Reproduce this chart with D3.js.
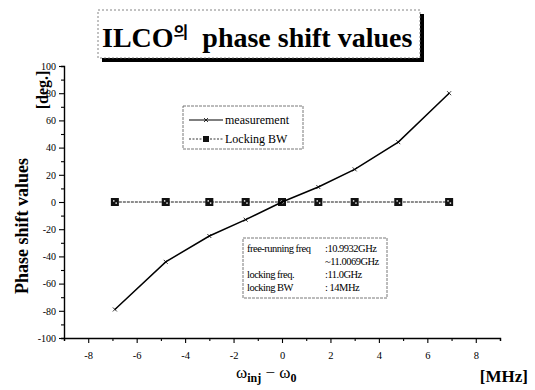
<!DOCTYPE html>
<html>
<head>
<meta charset="utf-8">
<script src="https://cdn.jsdelivr.net/npm/d3@7"></script>
<style>
  body { margin: 0; background: #fff; }
  svg { display: block; font-family: "Liberation Serif", "DejaVu Serif", serif; }
</style>
</head>
<body>
<svg width="535" height="390"></svg>
<script>
// data
const freqOffset = [-6.9, -4.8, -3, -1.5, 0, 1.5, 3, 4.8, 6.9];
const measurement = [-79, -44, -25, -13, 0, 11, 24, 44, 80];
const lockingBW = [0, 0, 0, 0, 0, 0, 0, 0, 0];
const xTicks = [-8, -6, -4, -2, 0, 2, 4, 6, 8];
const yTicks = [-100, -80, -60, -40, -20, 0, 20, 40, 60, 80, 100];
const infoRows = [
  ["free-running freq", ":10.9932GHz"],
  ["", "~11.0069GHz"],
  ["locking freq.", ":11.0GHz"],
  ["locking BW", ": 14MHz"]
];

const serif = "Liberation Serif, DejaVu Serif, serif";
const svg = d3.select("svg");
const margin = { top: 66, right: 35, bottom: 52, left: 64 };
const width = 535 - margin.left - margin.right;
const height = 390 - margin.top - margin.bottom;

const g = svg.append("g")
  .attr("transform", "translate(" + margin.left + "," + margin.top + ")");

const x = d3.scaleLinear().domain([-9, 9]).range([0, width]);
const y = d3.scaleLinear().domain([-100, 100]).range([height, 0]);

// axes with minor ticks
const xAxis = g.append("g").attr("transform", "translate(0," + height + ")");
xAxis.call(d3.axisBottom(x).tickValues(d3.range(-9, 10, 1)).tickFormat("").tickSize(3));
xAxis.selectAll(".tick").filter(d => xTicks.includes(d))
  .select("line").attr("y2", 5);
xAxis.selectAll(".tick").filter(d => xTicks.includes(d))
  .append("text")
  .attr("y", 14).attr("dy", "0.71em").attr("fill", "#000")
  .text(d => d);

const yAxis = g.append("g");
yAxis.call(d3.axisLeft(y).tickValues(d3.range(-100, 101, 10)).tickFormat("").tickSize(3));
yAxis.selectAll(".tick").filter(d => yTicks.includes(d))
  .select("line").attr("x2", -5);
yAxis.selectAll(".tick").filter(d => yTicks.includes(d))
  .append("text")
  .attr("x", -8).attr("dy", "0.32em").attr("fill", "#000")
  .attr("text-anchor", "end")
  .text(d => d);

xAxis.attr("font-family", serif).attr("font-size", 10.5);
yAxis.attr("font-family", serif).attr("font-size", 10);
svg.selectAll(".domain").attr("stroke-width", 1.4);
svg.selectAll(".tick line").attr("stroke-width", 1.1);

// locking BW series
const lineBW = d3.line().x((d, i) => x(freqOffset[i])).y(d => y(d));
g.append("path")
  .datum(lockingBW)
  .attr("fill", "none").attr("stroke", "#000")
  .attr("stroke-width", 0.9).attr("stroke-dasharray", "3,1")
  .attr("d", lineBW);

const bw = g.selectAll(".bw").data(lockingBW).enter().append("g")
  .attr("transform", (d, i) => "translate(" + x(freqOffset[i]) + "," + y(d) + ")");
bw.append("rect").attr("x", -4).attr("y", -4).attr("width", 8).attr("height", 8)
  .attr("fill", "#111");
bw.append("rect").attr("x", -1.8).attr("y", -1.8).attr("width", 1.4).attr("height", 1.4).attr("fill", "#fff");
bw.append("rect").attr("x", 0.6).attr("y", 0.4).attr("width", 1.4).attr("height", 1.4).attr("fill", "#fff");

// measurement series
const lineM = d3.line().x((d, i) => x(freqOffset[i])).y(d => y(d));
g.append("path")
  .datum(measurement)
  .attr("fill", "none").attr("stroke", "#000")
  .attr("stroke-width", 1.5)
  .attr("d", lineM);
g.selectAll(".m").data(measurement).enter().append("path")
  .attr("transform", (d, i) => "translate(" + x(freqOffset[i]) + "," + y(d) + ")")
  .attr("d", "M-2,-2L2,2M-2,2L2,-2")
  .attr("stroke", "#000").attr("stroke-width", 0.8);

// legend
const lg = svg.append("g").attr("transform", "translate(183,106)");
lg.append("rect").attr("width", 120).attr("height", 43)
  .attr("fill", "#fff").attr("stroke", "#555").attr("stroke-width", 0.8)
  .attr("stroke-dasharray", "3,1");
lg.append("line").attr("x1", 6).attr("x2", 40).attr("y1", 14).attr("y2", 14)
  .attr("stroke", "#000").attr("stroke-width", 1.2);
lg.append("path").attr("d", "M21,12L25,16M21,16L25,12").attr("stroke", "#000").attr("stroke-width", 0.8);
lg.append("text").attr("x", 42).attr("y", 18).attr("font-size", 12).text("measurement");
lg.append("line").attr("x1", 6).attr("x2", 40).attr("y1", 33).attr("y2", 33)
  .attr("stroke", "#000").attr("stroke-width", 0.8).attr("stroke-dasharray", "2,1.5");
lg.append("rect").attr("x", 20).attr("y", 30).attr("width", 6).attr("height", 6).attr("fill", "#111");
lg.append("text").attr("x", 42).attr("y", 37).attr("font-size", 12).text("Locking BW");

// info box
const ib = svg.append("g").attr("transform", "translate(243,238)");
ib.append("rect").attr("width", 144).attr("height", 60)
  .attr("fill", "#fff").attr("stroke", "#555").attr("stroke-width", 0.8)
  .attr("stroke-dasharray", "3,1");
infoRows.forEach((r, i) => {
  ib.append("text").attr("x", 4).attr("y", 14 + i * 13).attr("font-size", 10.5)
    .attr("letter-spacing", -0.5).text(r[0]);
  ib.append("text").attr("x", 82).attr("y", 14 + i * 13).attr("font-size", 10.5)
    .attr("letter-spacing", -0.5).text(r[1]);
});

// title box
const tb = svg.append("g").attr("transform", "translate(98,10)");
tb.append("rect").attr("x", 4).attr("y", 4).attr("width", 322).attr("height", 48).attr("fill", "#000");
tb.append("rect").attr("width", 322).attr("height", 48)
  .attr("fill", "#fff").attr("stroke", "#666").attr("stroke-width", 0.8)
  .attr("stroke-dasharray", "2,2");
const tt = tb.append("text").attr("x", 4).attr("y", 37)
  .attr("font-size", 28).attr("font-weight", "bold");
tt.append("tspan").text("ILCO");
tt.append("tspan").attr("font-size", 16).attr("dy", -9)
  .attr("font-family", "Noto Sans CJK KR").text("의");
tt.append("tspan").attr("dy", 9).attr("dx", 14).text("phase shift values");

// axis labels
svg.append("text")
  .attr("transform", "translate(28,226) rotate(-90)")
  .attr("text-anchor", "middle").attr("font-size", 18).attr("font-weight", "bold")
  .text("Phase shift values");
svg.append("text")
  .attr("transform", "translate(48,90) rotate(-90)")
  .attr("text-anchor", "middle").attr("font-size", 16).attr("font-weight", "bold")
  .text("[deg.]");

const xl = svg.append("text").attr("x", 236).attr("y", 378).attr("font-size", 17);
xl.append("tspan").text("ω");
xl.append("tspan").attr("font-size", 12).attr("font-weight", "bold").attr("dy", 4).text("inj");
xl.append("tspan").attr("dy", -4).text(" − ω");
xl.append("tspan").attr("font-size", 12).attr("font-weight", "bold").attr("dy", 4).text("0");

svg.append("text").attr("x", 528).attr("y", 382).attr("text-anchor", "end")
  .attr("font-size", 17).attr("font-weight", "bold").text("[MHz]");
</script>
</body>
</html>
